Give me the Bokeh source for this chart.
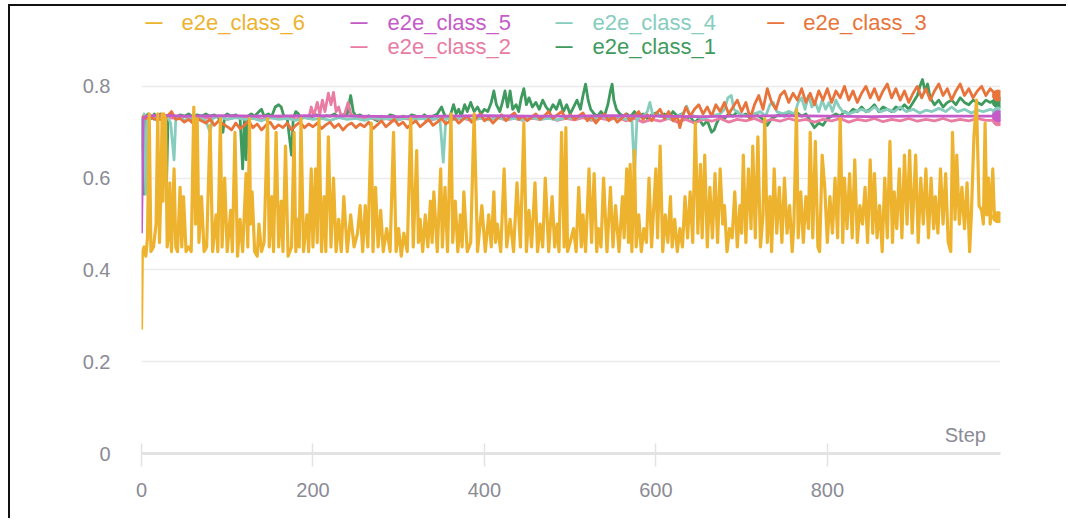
from bokeh.plotting import figure
from bokeh.models import Range1d, FixedTicker, CustomJSTickFormatter, Label
from bokeh.embed import file_html
from bokeh.resources import INLINE

# ---------------- data (step, value) ----------------
class_6 = [(0,0.27),(1,0.44),(3,0.45),(5,0.43),(7,0.47),(9,0.74),(11,0.44),(14,0.45),(17,0.50),(19,0.74),
(21,0.46),(23,0.60),(24,0.74),(25,0.55),(26,0.74),(28,0.73),(30,0.45),(32,0.48),(33,0.59),(35,0.44),
(38,0.62),(40,0.45),(42,0.44),(45,0.58),(47,0.45),(49,0.56),(52,0.44),(55,0.45),(58,0.44),(61,0.755),
(63,0.50),(65,0.73),(67,0.46),(70,0.56),(73,0.44),(76,0.45),(80,0.715),(83,0.44),(87,0.52),(89,0.44),
(92,0.73),(94,0.45),(97,0.60),(100,0.44),(104,0.53),(106,0.44),(109,0.70),(112,0.43),(115,0.51),(118,0.44),
(122,0.61),(124,0.45),(126,0.73),(127,0.50),(129,0.57),(132,0.44),(135,0.43),(137,0.50),(140,0.44),(143,0.46),
(147,0.73),(149,0.45),(152,0.56),(154,0.44),(157,0.70),(160,0.45),(163,0.55),(165,0.44),(168,0.67),(171,0.43),
(175,0.45),(178,0.70),(180,0.44),(182,0.51),(184,0.45),(186,0.73),(189,0.44),(193,0.52),(195,0.44),(198,0.62),
(200,0.45),(203,0.62),(205,0.46),(207,0.73),(210,0.44),(213,0.56),(215,0.44),(218,0.69),(221,0.45),(224,0.60),
(227,0.44),(230,0.51),(233,0.44),(236,0.56),(240,0.44),(244,0.52),(248,0.45),(252,0.48),(255,0.54),(258,0.44),
(261,0.54),(264,0.45),(268,0.72),(270,0.44),(273,0.58),(276,0.45),(279,0.53),(282,0.44),(286,0.49),(290,0.44),
(294,0.70),(297,0.44),(300,0.49),(303,0.43),(306,0.48),(310,0.44),(314,0.73),(317,0.45),(321,0.66),(323,0.46),
(325,0.51),(328,0.44),(331,0.52),(334,0.45),(337,0.55),(339,0.46),(341,0.57),(345,0.44),(349,0.62),(351,0.45),
(354,0.58),(357,0.44),(361,0.74),(363,0.46),(366,0.55),(369,0.44),(372,0.52),(374,0.45),(376,0.57),(380,0.44),
(384,0.46),(388,0.74),(392,0.44),(397,0.54),(401,0.44),(405,0.52),(408,0.45),(411,0.57),(413,0.46),(415,0.50),
(419,0.44),(423,0.62),(426,0.45),(430,0.51),(434,0.44),(438,0.59),(442,0.45),(446,0.72),(449,0.44),(452,0.53),
(455,0.45),(459,0.59),(462,0.44),(465,0.50),(468,0.45),(471,0.60),(475,0.44),(479,0.56),(482,0.45),(485,0.50),
(487,0.44),(490,0.70),(493,0.45),(495,0.71),(497,0.44),(500,0.46),(504,0.49),(507,0.44),(510,0.58),(513,0.45),
(515,0.52),(518,0.44),(522,0.62),(525,0.46),(528,0.61),(531,0.44),(533,0.49),(536,0.45),(539,0.60),(543,0.44),
(547,0.58),(550,0.45),(553,0.54),(557,0.44),(561,0.56),(563,0.47),(566,0.62),(568,0.46),(570,0.63),(572,0.44),
(575,0.66),(577,0.45),(580,0.52),(583,0.44),(586,0.49),(589,0.46),(592,0.60),(595,0.45),(600,0.62),(602,0.47),
(605,0.67),(608,0.44),(611,0.52),(614,0.46),(617,0.56),(619,0.45),(622,0.51),(625,0.44),(628,0.49),(631,0.45),
(634,0.56),(637,0.47),(640,0.57),(643,0.46),(646,0.72),(649,0.48),(652,0.63),(654,0.47),(657,0.65),(660,0.45),
(663,0.58),(666,0.47),(669,0.61),(672,0.46),(675,0.62),(678,0.50),(680,0.54),(683,0.44),(686,0.49),(689,0.47),
(692,0.57),(695,0.45),(698,0.54),(700,0.48),(702,0.65),(705,0.46),(708,0.62),(711,0.49),(713,0.67),(716,0.47),
(719,0.69),(722,0.45),(725,0.52),(727,0.73),(730,0.46),(733,0.56),(735,0.44),(738,0.62),(741,0.48),(744,0.58),
(747,0.46),(750,0.60),(753,0.48),(756,0.54),(759,0.44),(761,0.50),(764,0.75),(766,0.47),(769,0.57),(772,0.46),
(775,0.56),(778,0.49),(780,0.70),(783,0.47),(786,0.68),(789,0.45),(791,0.44),(794,0.65),(797,0.58),(800,0.46),
(803,0.56),(806,0.48),(809,0.60),(812,0.47),(815,0.73),(818,0.46),(820,0.60),(823,0.49),(826,0.61),(829,0.47),
(832,0.64),(835,0.46),(838,0.54),(841,0.50),(844,0.58),(847,0.46),(850,0.64),(853,0.48),(855,0.61),(858,0.47),
(861,0.54),(864,0.44),(867,0.60),(870,0.47),(873,0.68),(876,0.46),(878,0.57),(881,0.49),(884,0.62),(887,0.47),
(890,0.65),(893,0.50),(896,0.66),(899,0.48),(903,0.65),(906,0.46),(909,0.60),(912,0.50),(915,0.62),(918,0.47),
(921,0.60),(924,0.49),(926,0.56),(929,0.48),(932,0.62),(935,0.50),(938,0.61),(941,0.46),(944,0.44),(946,0.70),
(949,0.51),(951,0.65),(954,0.50),(957,0.58),(960,0.49),(963,0.59),(966,0.44),(968,0.52),(971,0.69),(974,0.77),
(977,0.54),(980,0.53),(982,0.50),(984,0.72),(986,0.52),(988,0.60),(990,0.50),(993,0.62),(995,0.51),(997,0.52),(999,0.515)]

class_5 = [(0,0.48),(2,0.73),(5,0.735),(20,0.737),(50,0.735),(100,0.736),(150,0.735),(200,0.736),(250,0.735),
(300,0.734),(350,0.735),(400,0.736),(450,0.735),(500,0.735),(550,0.736),(600,0.735),(650,0.734),(700,0.735),
(750,0.736),(800,0.735),(850,0.734),(900,0.735),(950,0.735),(999,0.735)]

class_4 = [(0,0.72),(3,0.74),(5,0.565),(7,0.735),(10,0.73),(14,0.735),(18,0.725),(22,0.735),(26,0.73),(30,0.735),
(34,0.72),(38,0.64),(40,0.73),(45,0.735),(50,0.725),(55,0.73),(60,0.735),(65,0.728),(70,0.73),(75,0.725),
(80,0.70),(83,0.73),(90,0.735),(100,0.728),(110,0.732),(120,0.728),(130,0.73),(140,0.725),(150,0.732),(160,0.728),
(170,0.73),(180,0.726),(190,0.732),(200,0.728),(210,0.73),(220,0.726),(230,0.732),(240,0.728),(250,0.73),(260,0.726),
(270,0.732),(280,0.728),(290,0.73),(300,0.727),(310,0.732),(320,0.728),(330,0.73),(340,0.728),(348,0.732),(352,0.635),
(355,0.73),(365,0.728),(375,0.732),(385,0.728),(395,0.73),(405,0.727),(415,0.732),(425,0.728),(435,0.73),(445,0.727),
(455,0.732),(465,0.728),(475,0.73),(485,0.727),(495,0.732),(505,0.73),(515,0.735),(525,0.728),(535,0.735),(545,0.73),
(555,0.735),(565,0.728),(572,0.732),(575,0.61),(578,0.73),(585,0.735),(590,0.745),(593,0.765),(596,0.74),(605,0.735),
(615,0.73),(625,0.735),(632,0.74),(636,0.757),(639,0.74),(645,0.735),(655,0.73),(665,0.735),(675,0.74),(680,0.75),
(684,0.775),(688,0.78),(691,0.75),(698,0.74),(705,0.735),(715,0.74),(722,0.745),(728,0.735),(733,0.76),(737,0.765),
(741,0.745),(748,0.74),(755,0.745),(762,0.74),(766,0.765),(770,0.775),(774,0.75),(778,0.78),(782,0.755),(786,0.765),
(790,0.745),(794,0.77),(798,0.75),(802,0.765),(806,0.745),(810,0.77),(814,0.755),(818,0.745),(825,0.74),(832,0.745),
(840,0.75),(848,0.745),(855,0.755),(862,0.745),(870,0.75),(878,0.745),(885,0.755),(892,0.745),(900,0.75),(908,0.742),
(915,0.748),(922,0.745),(930,0.752),(938,0.745),(945,0.755),(952,0.745),(960,0.75),(968,0.742),(975,0.748),(982,0.745),
(990,0.75),(999,0.743)]

class_3 = [(0,0.735),(5,0.73),(10,0.735),(15,0.728),(20,0.73),(25,0.725),(30,0.735),(35,0.745),(40,0.728),(45,0.73),
(50,0.722),(55,0.728),(60,0.72),(65,0.73),(70,0.725),(75,0.72),(80,0.728),(85,0.715),(90,0.725),(95,0.718),
(100,0.712),(105,0.705),(110,0.72),(115,0.708),(120,0.715),(125,0.725),(130,0.71),(135,0.718),(140,0.705),(145,0.715),
(150,0.722),(155,0.708),(160,0.716),(165,0.71),(170,0.72),(175,0.705),(180,0.715),(185,0.722),(190,0.71),(195,0.718),
(200,0.712),(205,0.72),(210,0.708),(215,0.716),(220,0.722),(225,0.71),(230,0.718),(235,0.705),(240,0.715),(245,0.72),
(250,0.71),(255,0.718),(260,0.712),(265,0.722),(270,0.708),(275,0.716),(280,0.725),(285,0.712),(290,0.72),(295,0.728),
(300,0.715),(305,0.722),(310,0.71),(315,0.718),(320,0.725),(325,0.712),(330,0.72),(335,0.728),(340,0.715),(345,0.722),
(350,0.73),(355,0.718),(360,0.725),(365,0.732),(370,0.72),(375,0.728),(380,0.735),(385,0.722),(390,0.73),(395,0.74),
(400,0.725),(405,0.732),(410,0.72),(415,0.73),(420,0.738),(425,0.725),(430,0.735),(435,0.742),(440,0.728),(445,0.735),
(450,0.725),(455,0.733),(460,0.74),(465,0.728),(470,0.736),(475,0.745),(480,0.73),(485,0.738),(490,0.745),(495,0.73),
(500,0.738),(505,0.728),(510,0.735),(515,0.742),(520,0.725),(525,0.735),(530,0.72),(535,0.732),(540,0.74),(545,0.725),
(550,0.735),(555,0.722),(560,0.73),(565,0.74),(570,0.725),(575,0.735),(580,0.745),(585,0.728),(590,0.738),(595,0.725),
(600,0.74),(605,0.75),(610,0.73),(615,0.745),(620,0.725),(625,0.735),(628,0.71),(632,0.74),(635,0.755),(640,0.735),
(645,0.75),(650,0.76),(655,0.74),(660,0.755),(665,0.735),(670,0.76),(675,0.745),(680,0.765),(685,0.74),(690,0.755),
(695,0.77),(700,0.745),(705,0.765),(710,0.73),(715,0.76),(720,0.78),(725,0.75),(730,0.795),(735,0.765),(740,0.75),
(745,0.78),(750,0.79),(755,0.765),(760,0.785),(765,0.77),(770,0.795),(775,0.765),(780,0.785),(785,0.76),(790,0.79),
(795,0.77),(800,0.795),(805,0.765),(810,0.79),(815,0.775),(820,0.80),(825,0.77),(830,0.79),(835,0.765),(840,0.785),
(845,0.80),(850,0.775),(855,0.795),(860,0.77),(865,0.79),(870,0.805),(875,0.775),(880,0.795),(885,0.77),(890,0.79),
(895,0.765),(900,0.785),(905,0.80),(910,0.775),(915,0.795),(920,0.77),(925,0.79),(930,0.805),(935,0.78),(940,0.795),
(945,0.77),(950,0.79),(955,0.805),(960,0.78),(965,0.795),(970,0.775),(975,0.79),(980,0.80),(985,0.78),(990,0.795),
(995,0.785),(999,0.78)]

class_2 = [(0,0.73),(10,0.733),(20,0.728),(30,0.732),(40,0.73),(50,0.734),(60,0.728),(70,0.732),(80,0.73),(90,0.735),
(100,0.728),(110,0.733),(120,0.73),(130,0.734),(140,0.728),(150,0.732),(160,0.73),(170,0.735),(180,0.728),(190,0.735),
(195,0.73),(198,0.755),(201,0.735),(205,0.765),(208,0.74),(211,0.77),(214,0.745),(218,0.785),(221,0.76),(224,0.787),
(227,0.745),(230,0.755),(233,0.735),(237,0.74),(241,0.765),(244,0.74),(248,0.735),(255,0.73),(265,0.733),(275,0.728),
(285,0.73),(295,0.725),(305,0.73),(315,0.728),(325,0.732),(335,0.725),(345,0.73),(355,0.733),(365,0.728),(375,0.73),
(385,0.726),(395,0.73),(405,0.728),(415,0.732),(425,0.727),(435,0.73),(445,0.726),(455,0.73),(465,0.728),(475,0.732),
(485,0.726),(495,0.73),(505,0.727),(515,0.732),(525,0.726),(535,0.73),(545,0.727),(555,0.732),(565,0.725),(575,0.73),
(585,0.722),(595,0.728),(605,0.724),(615,0.73),(625,0.722),(635,0.728),(645,0.72),(655,0.728),(665,0.724),(675,0.73),
(685,0.722),(695,0.728),(705,0.725),(715,0.73),(725,0.722),(735,0.728),(745,0.724),(755,0.73),(765,0.725),(775,0.728),
(785,0.722),(795,0.728),(805,0.725),(815,0.73),(825,0.722),(835,0.728),(845,0.725),(855,0.73),(865,0.723),(875,0.728),
(885,0.725),(895,0.73),(905,0.724),(915,0.728),(925,0.725),(935,0.73),(945,0.724),(955,0.728),(965,0.725),(975,0.73),
(985,0.726),(999,0.726)]

class_1 = [(0,0.73),(3,0.565),(5,0.735),(8,0.74),(12,0.73),(15,0.74),(18,0.73),(22,0.74),(26,0.735),(29,0.57),
(31,0.735),(35,0.74),(40,0.732),(45,0.738),(50,0.735),(55,0.74),(60,0.733),(65,0.738),(70,0.735),(75,0.74),
(80,0.735),(85,0.738),(90,0.732),(95,0.70),(97,0.735),(100,0.74),(105,0.735),(110,0.738),(115,0.73),(118,0.62),
(120,0.73),(122,0.64),(124,0.735),(128,0.74),(132,0.735),(137,0.745),(140,0.75),(143,0.735),(148,0.74),(152,0.735),
(156,0.755),(160,0.76),(163,0.755),(166,0.735),(170,0.73),(175,0.65),(177,0.73),(180,0.745),(183,0.74),(186,0.73),
(190,0.735),(195,0.73),(200,0.735),(205,0.738),(210,0.732),(215,0.736),(220,0.735),(225,0.74),(230,0.733),(235,0.738),
(240,0.74),(244,0.78),(247,0.745),(250,0.735),(255,0.738),(260,0.732),(265,0.736),(270,0.73),(275,0.725),(280,0.735),
(285,0.73),(290,0.738),(295,0.735),(300,0.728),(305,0.735),(310,0.73),(315,0.738),(320,0.735),(325,0.73),(330,0.738),
(335,0.732),(340,0.735),(345,0.74),(350,0.755),(353,0.74),(356,0.73),(360,0.735),(364,0.76),(367,0.74),(370,0.75),
(373,0.735),(377,0.76),(380,0.745),(384,0.765),(388,0.745),(392,0.755),(396,0.74),(400,0.75),(404,0.745),(408,0.765),
(411,0.79),(414,0.76),(418,0.745),(421,0.765),(424,0.79),(427,0.755),(430,0.79),(433,0.75),(437,0.76),(440,0.745),
(443,0.775),(446,0.795),(449,0.76),(452,0.775),(456,0.755),(460,0.765),(464,0.75),(468,0.77),(472,0.755),(476,0.745),
(480,0.76),(484,0.75),(488,0.77),(492,0.745),(496,0.76),(500,0.74),(504,0.755),(508,0.77),(512,0.75),(515,0.78),
(518,0.805),(521,0.77),(524,0.75),(528,0.74),(532,0.735),(536,0.745),(540,0.735),(544,0.76),(547,0.79),(549,0.805),
(551,0.77),(554,0.75),(558,0.74),(562,0.735),(566,0.74),(570,0.733),(575,0.745),(580,0.735),(585,0.74),(590,0.73),
(595,0.738),(600,0.742),(605,0.735),(610,0.74),(615,0.73),(620,0.745),(625,0.735),(630,0.74),(635,0.728),(640,0.735),
(645,0.72),(650,0.73),(655,0.715),(660,0.725),(665,0.70),(668,0.705),(671,0.72),(675,0.735),(680,0.73),(685,0.74),
(690,0.735),(695,0.745),(700,0.735),(705,0.74),(710,0.73),(715,0.74),(720,0.735),(725,0.728),(730,0.715),(735,0.73),
(740,0.735),(745,0.74),(750,0.735),(755,0.745),(760,0.738),(765,0.742),(770,0.735),(775,0.74),(780,0.725),(785,0.71),
(790,0.72),(795,0.715),(800,0.73),(805,0.735),(810,0.74),(815,0.735),(820,0.745),(825,0.74),(830,0.75),(835,0.745),
(840,0.755),(845,0.745),(850,0.75),(855,0.76),(860,0.745),(865,0.755),(870,0.75),(875,0.745),(880,0.755),(885,0.75),
(890,0.76),(895,0.75),(900,0.765),(905,0.78),(908,0.80),(911,0.815),(914,0.79),(917,0.805),(920,0.775),(925,0.76),
(930,0.77),(935,0.755),(940,0.765),(945,0.77),(950,0.76),(955,0.775),(960,0.765),(965,0.76),(970,0.77),(975,0.765),
(980,0.76),(985,0.77),(990,0.765),(995,0.77),(999,0.765)]

series_names = ["e2e_class_6", "e2e_class_5", "e2e_class_4", "e2e_class_3", "e2e_class_2", "e2e_class_1"]
series_colors = ["#EDB32F", "#C55BC9", "#86CDBE", "#E8743B", "#E87CA2", "#3F9A5E"]
x_ticks = [0, 200, 400, 600, 800]
y_ticks = [0, 0.2, 0.4, 0.6, 0.8]

data = dict(zip(series_names, [class_6, class_5, class_4, class_3, class_2, class_1]))
colors = dict(zip(series_names, series_colors))

FONT = "Liberation Sans"
GRAY = "#8b8b96"

p = figure(width=1058, height=514, output_backend="svg", toolbar_location=None,
           x_range=Range1d(0, 1002), y_range=Range1d(0, 0.974),
           min_border_left=131, min_border_right=68, min_border_top=0, min_border_bottom=67)
p.styles = {"position": "absolute", "left": "8px", "top": "4px",
            "border-top": "2px solid #111111", "border-left": "2px solid #111111"}
p.outline_line_color = None
p.background_fill_color = "white"
p.border_fill_color = "white"

# grids
p.xgrid.grid_line_color = None
p.ygrid.grid_line_color = "#ebebeb"
p.ygrid.grid_line_width = 1.5

# x axis
p.xaxis.ticker = FixedTicker(ticks=x_ticks, minor_ticks=[])
p.xaxis.axis_line_color = "#e3e3e3"
p.xaxis.axis_line_width = 3
p.xaxis.major_tick_line_color = "#e3e3e3"
p.xaxis.major_tick_line_width = 1.5
p.xaxis.major_tick_in = 10
p.xaxis.major_tick_out = 13
p.xaxis.minor_tick_line_color = None
p.xaxis.major_label_standoff = 16
p.xaxis.major_label_text_font = FONT
p.xaxis.major_label_text_font_size = "20px"
p.xaxis.major_label_text_color = GRAY

# y axis
p.yaxis.ticker = FixedTicker(ticks=y_ticks, minor_ticks=[])
p.yaxis.formatter = CustomJSTickFormatter(code="return tick == 0 ? '0' : tick.toFixed(1);")
p.yaxis.axis_line_color = None
p.yaxis.major_tick_line_color = None
p.yaxis.minor_tick_line_color = None
p.yaxis.major_tick_in = 0
p.yaxis.major_tick_out = 0
p.yaxis.major_label_standoff = 31
p.yaxis.major_label_text_font = FONT
p.yaxis.major_label_text_font_size = "20px"
p.yaxis.major_label_text_color = GRAY

# lines (drawing order: bottom to top)
for name in ["e2e_class_1", "e2e_class_2", "e2e_class_4", "e2e_class_3", "e2e_class_5", "e2e_class_6"]:
    xs = [s for s, v in data[name]]
    ys = [v for s, v in data[name]]
    p.line(xs, ys, line_color=colors[name], line_width=3.2 if name == "e2e_class_6" else 2.8,
           line_join="round")
    p.scatter([xs[-1]], [ys[-1]], size=11, color=colors[name])

# "Step" axis title
p.add_layout(Label(x=985, y=0.017, text="Step", text_align="right", text_baseline="bottom",
                   text_font=FONT, text_font_size="20px", text_color=GRAY))

# legend (custom, coloured text)
legend_pos = {
    "e2e_class_6": (4.7, 46.6, 0.9395),
    "e2e_class_5": (243.7, 286.9, 0.9395),
    "e2e_class_4": (482.8, 526.0, 0.9395),
    "e2e_class_3": (730.0, 772.0, 0.9395),
    "e2e_class_2": (243.7, 286.9, 0.887),
    "e2e_class_1": (482.8, 526.0, 0.887),
}
for name in series_names:
    xd, xt, yl = legend_pos[name]
    p.add_layout(Label(x=xd, y=yl, text="\u2014", text_baseline="middle", text_font=FONT,
                       text_font_style="bold", text_font_size="17px", text_color=colors[name]))
    p.add_layout(Label(x=xt, y=yl, text=name, text_baseline="middle", text_font=FONT,
                       text_font_size="22px", text_color=colors[name]))

open("out.html", "w").write(file_html(p, INLINE))
